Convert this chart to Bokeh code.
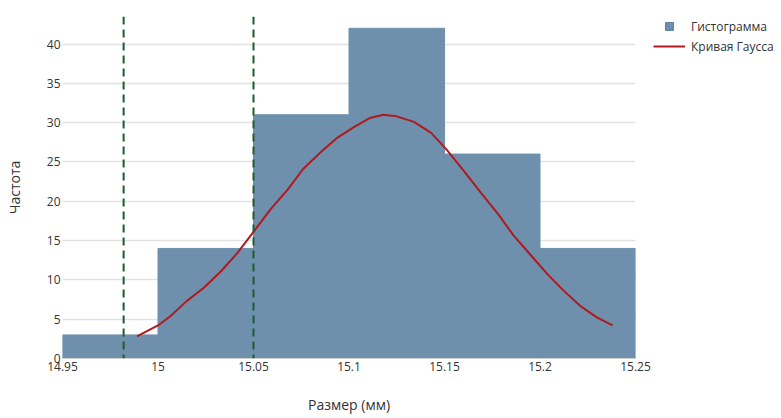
from bokeh.plotting import figure
from bokeh.layouts import row
from bokeh.models import (ColumnDataSource, Span, Legend, LegendItem, FixedTicker,
                          Range1d)
from bokeh.embed import file_html
from bokeh.resources import INLINE

# ---- data ----
bin_left = [14.95, 15.00, 15.05, 15.10, 15.15, 15.20]
bin_right = [15.00, 15.05, 15.10, 15.15, 15.20, 15.25]
counts = [3, 14, 31, 42, 26, 14]

curve_x = [14.989, 15.000, 15.0066, 15.015, 15.024, 15.033, 15.0415, 15.050,
           15.059, 15.068, 15.076, 15.085, 15.094, 15.103, 15.111, 15.118,
           15.125, 15.134, 15.143, 15.151, 15.160, 15.169, 15.178, 15.186,
           15.195, 15.204, 15.2125, 15.221, 15.230, 15.238]
curve_y = [2.8, 4.2, 5.4, 7.3, 9.0, 11.1, 13.4, 16.1,
           19.0, 21.5, 24.1, 26.2, 28.1, 29.5, 30.6, 31.0,
           30.8, 30.1, 28.7, 26.6, 23.9, 21.1, 18.4, 15.7,
           13.2, 10.7, 8.6, 6.7, 5.2, 4.2]

limits = [14.982, 15.05]

x_ticks = [14.95, 15.0, 15.05, 15.1, 15.15, 15.2, 15.25]
x_tick_labels = ["14.95", "15", "15.05", "15.1", "15.15", "15.2", "15.25"]
y_ticks = [0, 5, 10, 15, 20, 25, 30, 35, 40]

series_names = ["Гистограмма", "Кривая Гаусса"]
x_title = "Размер (мм)"
y_title = "Частота"

FONT = "Open Sans"
TXT = "#333333"
BAR_FILL = "#6e90ad"
BAR_LINE = "#5f84a3"
CURVE = "#b01a1f"
LIMIT = "#1f5a2c"

p = figure(width=653, height=418, output_backend="svg", toolbar_location=None,
           x_range=Range1d(14.95, 15.25), y_range=Range1d(0, 43.5),
           min_border_left=62, min_border_right=18, min_border_top=12,
           min_border_bottom=60)
p.outline_line_color = None
p.background_fill_color = "white"

bin_mid = [(a + b) / 2 for a, b in zip(bin_left, bin_right)]
src = ColumnDataSource(dict(left=bin_left, right=bin_right, top=counts,
                            bottom=[0] * len(counts), mid=bin_mid))
p.quad(left="left", right="right", top="top", bottom="bottom", source=src,
       fill_color=BAR_FILL, line_color=BAR_FILL, line_width=1)

p.line(curve_x, curve_y, line_color=CURVE, line_width=2)

for lx in limits:
    p.add_layout(Span(location=lx, dimension="height", line_color=LIMIT,
                      line_width=2, line_dash="8 5"))

# grid
p.xgrid.grid_line_color = None
p.ygrid.grid_line_color = "#e2e2e2"
p.ygrid.grid_line_width = 1.5
p.ygrid.ticker = FixedTicker(ticks=y_ticks)

# axes
p.xaxis.ticker = FixedTicker(ticks=x_ticks)
p.xaxis.major_label_overrides = {t: l for t, l in zip(x_ticks, x_tick_labels)}
p.yaxis.ticker = FixedTicker(ticks=y_ticks)
for ax in (p.xaxis, p.yaxis):
    ax.major_tick_line_color = None
    ax.minor_tick_line_color = None
    ax.major_tick_out = 0
    ax.major_tick_in = 0
    ax.minor_tick_out = 0
    ax.minor_tick_in = 0
    ax.major_label_text_font = FONT
    ax.major_label_text_font_size = "12px"
    ax.major_label_text_color = TXT
    ax.axis_label_text_font = FONT
    ax.axis_label_text_font_size = "14px"
    ax.axis_label_text_font_style = "normal"
    ax.axis_label_text_color = TXT
p.xaxis.axis_line_color = "#d0d0d0"
p.yaxis.axis_line_color = None
p.xaxis.axis_label = x_title
p.yaxis.axis_label = y_title
p.xaxis.major_label_standoff = 3
p.xaxis.axis_label_standoff = 21
p.yaxis.major_label_standoff = 2
p.yaxis.axis_label_standoff = 20

# ---- legend panel (separate narrow figure, series kept out of its view) ----
lp = figure(width=128, height=418, output_backend="svg", toolbar_location=None,
            x_range=Range1d(0, 1), y_range=Range1d(0, 1),
            min_border_left=0, min_border_right=0, min_border_top=16,
            min_border_bottom=0)
lp.axis.visible = False
lp.grid.visible = False
lp.outline_line_color = None
sq = lp.scatter(x="mid", y="top", source=src, marker="square", size=9,
                fill_color=BAR_FILL, line_color=BAR_LINE)
ln = lp.line(curve_x, curve_y, line_color=CURVE, line_width=2)

legend = Legend(items=[LegendItem(label=series_names[0], renderers=[sq]),
                       LegendItem(label=series_names[1], renderers=[ln])],
                location="top_left", glyph_width=32, glyph_height=20,
                spacing=0, padding=0, margin=0, label_standoff=6,
                border_line_color=None, background_fill_alpha=0,
                label_text_font=FONT, label_text_font_size="12px",
                label_text_color=TXT)
lp.add_layout(legend)

open("out.html", "w").write(file_html(row(p, lp), INLINE))
